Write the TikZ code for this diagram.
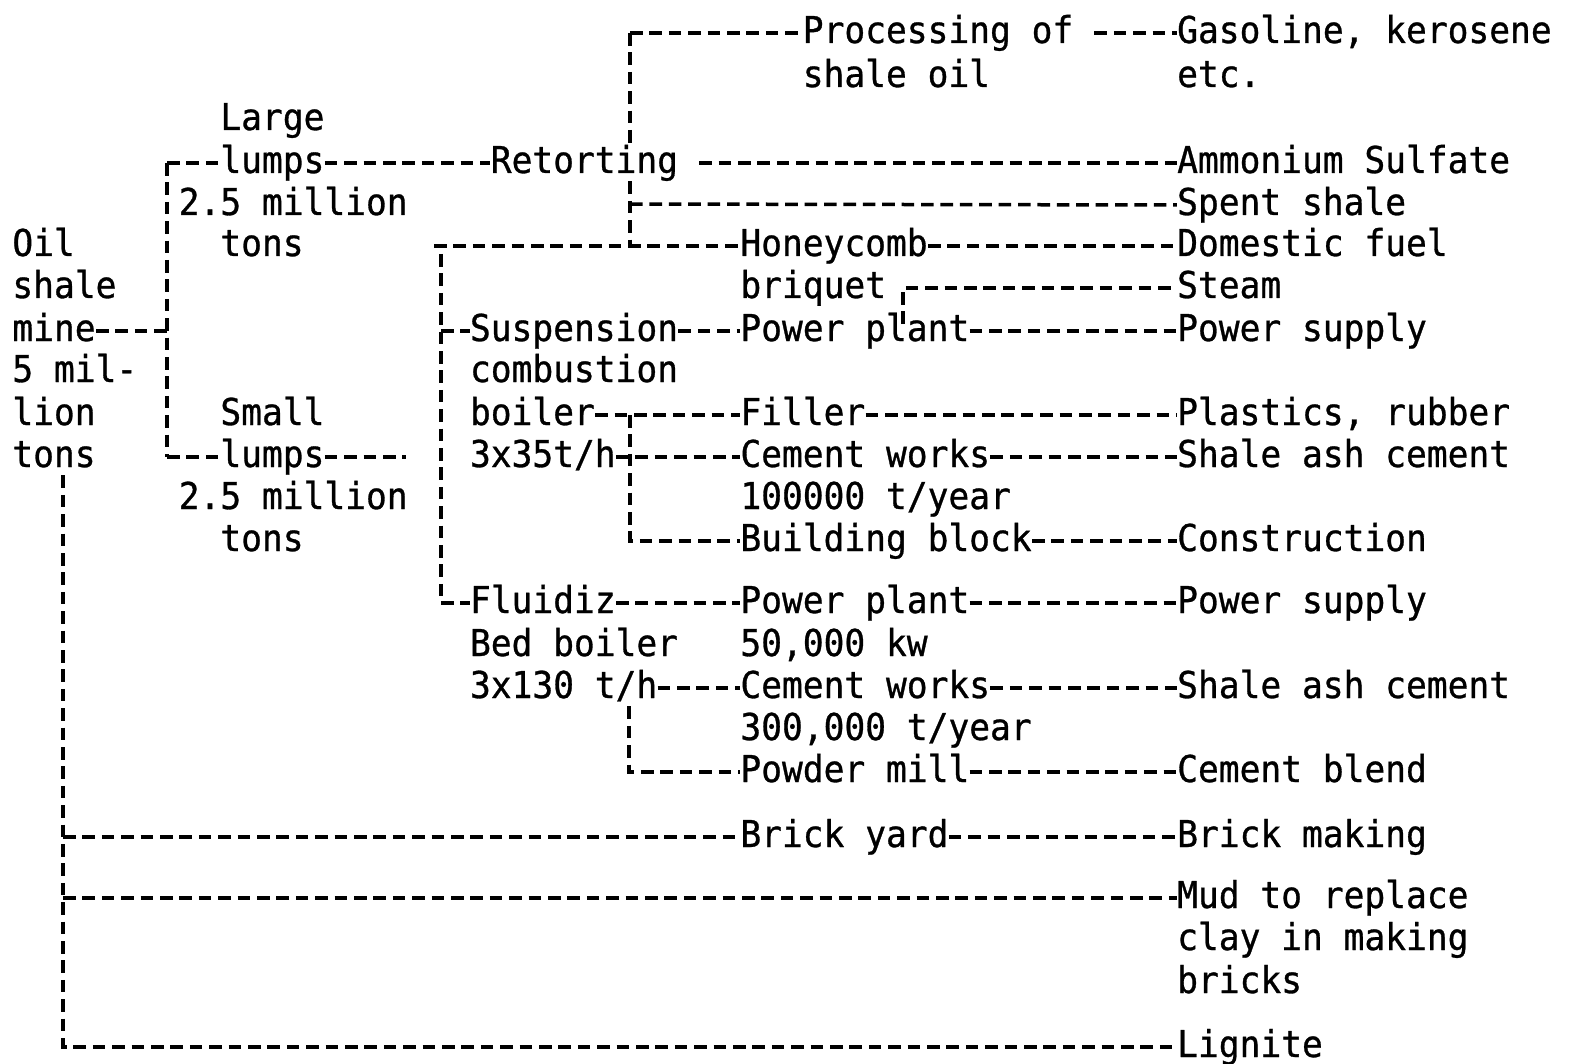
\documentclass[tikz,border=0pt]{standalone}
\usepackage{fontspec}
\newfontfamily\twfont[FakeStretch=0.934,FakeBold=0.8]{DejaVu Sans Mono}
\tikzset{
  tw/.style={anchor=base west, inner sep=0pt, text height=14pt, text depth=4pt,
    font=\twfont\fontsize{18.5pt}{20pt}\selectfont},
  link/.style={line width=1.75pt, dash pattern=on 6.3pt off 3.4pt}
}
\begin{document}
\begin{tikzpicture}[x=0.5pt,y=-0.5pt]
\fill[white] (0,0) rectangle (1573,1064);
\useasboundingbox (0,0) rectangle (1573,1064);
% text
\node[tw] (proc) at (802.4,43) {Processing of};
\node[tw] (shaleoil) at (802.4,87) {shale oil};
\node[tw] (gas) at (1176.8,43) {Gasoline, kerosene};
\node[tw] (etc) at (1176.8,87) {etc.};
\node[tw] (large) at (220,130) {Large};
\node[tw] (lumpsL) at (220,173) {lumps};
\node[tw] (retort) at (490.4,173) {Retorting};
\node[tw] (ammon) at (1176.8,173) {Ammonium Sulfate};
\node[tw] (mila) at (178.4,215) {2.5 million};
\node[tw] (spent) at (1176.8,215) {Spent shale};
\node[tw] (oil) at (12,256) {Oil};
\node[tw] (tonsa) at (220,256) {tons};
\node[tw] (honey) at (740,256) {Honeycomb};
\node[tw] (dom) at (1176.8,256) {Domestic fuel};
\node[tw] (shale) at (12,298) {shale};
\node[tw] (briq) at (740,298) {briquet};
\node[tw] (steam) at (1176.8,298) {Steam};
\node[tw] (mine) at (12,341) {mine};
\node[tw] (susp) at (469.6,341) {Suspension};
\node[tw] (ppa) at (740,341) {Power plant};
\node[tw] (psa) at (1176.8,341) {Power supply};
\node[tw] (mil) at (12,382) {5 mil-};
\node[tw] (comb) at (469.6,382) {combustion};
\node[tw] (lion) at (12,425) {lion};
\node[tw] (small) at (220,425) {Small};
\node[tw] (boiler) at (469.6,425) {boiler};
\node[tw] (filler) at (740,425) {Filler};
\node[tw] (plast) at (1176.8,425) {Plastics, rubber};
\node[tw] (tonsm) at (12,467) {tons};
\node[tw] (lumpsS) at (220,467) {lumps};
\node[tw] (hA) at (469.6,467) {3x35t/h};
\node[tw] (cemA) at (740,467) {Cement works};
\node[tw] (sacA) at (1176.8,467) {Shale ash cement};
\node[tw] (milb) at (178.4,509) {2.5 million};
\node[tw] (tA) at (740,509) {100000 t/year};
\node[tw] (tonsb) at (220,551) {tons};
\node[tw] (block) at (740,551) {Building block};
\node[tw] (constr) at (1176.8,551) {Construction};
\node[tw] (fluid) at (469.6,613) {Fluidiz};
\node[tw] (ppb) at (740,613) {Power plant};
\node[tw] (psb) at (1176.8,613) {Power supply};
\node[tw] (bed) at (469.6,656) {Bed boiler};
\node[tw] (kw) at (740,656) {50,000 kw};
\node[tw] (hB) at (469.6,698) {3x130 t/h};
\node[tw] (cemB) at (740,698) {Cement works};
\node[tw] (sacB) at (1176.8,698) {Shale ash cement};
\node[tw] (tB) at (740,740) {300,000 t/year};
\node[tw] (mill) at (740,782) {Powder mill};
\node[tw] (blend) at (1176.8,782) {Cement blend};
\node[tw] (brick) at (740,847) {Brick yard};
\node[tw] (bmak) at (1176.8,847) {Brick making};
\node[tw] (mud) at (1176.8,908) {Mud to replace};
\node[tw] (clay) at (1176.8,950) {clay in making};
\node[tw] (bricks) at (1176.8,993) {bricks};
\node[tw] (lig) at (1176.8,1057) {Lignite};
% junction points
\coordinate (v1t) at (167,163);
\coordinate (v1m) at (167,331);
\coordinate (v1b) at (167,457);
\coordinate (sEnd) at (406,457);
\coordinate (v2t) at (630,33);
\coordinate (v2s) at (630,204);
\coordinate (v2b) at (630,246);
\coordinate (v3t) at (434,246);
\coordinate (v3m) at (441,331);
\coordinate (v3b) at (441,603);
\coordinate (stc) at (903,288);
\coordinate (stEnd) at (903,324);
\coordinate (v4t) at (630,415);
\coordinate (v4b) at (630,541);
\coordinate (v5b) at (629,772);
\coordinate (v6a) at (63,837);
\coordinate (v6b) at (63,898);
\coordinate (v6c) at (63,1047);
% connectors
\draw[link] (mine.east) -- (v1m);
\draw[link] (v1t) -- (v1b);
\draw[link] (v1t) -- (lumpsL.west);
\draw[link] (v1b) -- (lumpsS.west);
\draw[link] (lumpsL.east) -- (retort.west);
\draw[link] (lumpsS.east) -- (sEnd);
\draw[link] ([xshift=10.4pt]retort.east) -- (ammon.west);
\draw[link] (v2t |- proc.west) -- (proc.west);
\draw[link] ([xshift=10.4pt]proc.east) -- (gas.west);
\draw[link] (v2t) -- (v2t |- retort.north);
\draw[link] (v2t |- retort.south) -- (v2b);
\draw[link] (v2s) -- (spent.west);
\draw[link] (v3t) -- (honey.west);
\draw[link] (honey.east) -- (dom.west);
\draw[link] (441,254) -- (v3b);
\draw[link] (v3m) -- (susp.west);
\draw[link] (v3b) -- (fluid.west);
\draw[link] (susp.east) -- (ppa.west);
\draw[link] (ppa.east) -- (psa.west);
\draw[link] (stEnd) -- (stc) -- (steam.west);
\draw[link] (boiler.east) -- (filler.west);
\draw[link] (filler.east) -- (plast.west);
\draw[link] (v4t) -- (v4b) -- (block.west);
\draw[link] (hA.east) -- (cemA.west);
\draw[link] (cemA.east) -- (sacA.west);
\draw[link] (block.east) -- (constr.west);
\draw[link] (fluid.east) -- (ppb.west);
\draw[link] (ppb.east) -- (psb.west);
\draw[link] (hB.east) -- (cemB.west);
\draw[link] (cemB.east) -- (sacB.west);
\draw[link] (v5b |- hB.south) -- (v5b) -- (mill.west);
\draw[link] (mill.east) -- (blend.west);
\draw[link] (v6a |- tonsm.south) -- (v6c) -- (lig.west);
\draw[link] (v6a) -- (brick.west);
\draw[link] (brick.east) -- (bmak.west);
\draw[link] (v6b) -- (mud.west);
\end{tikzpicture}
\end{document}
